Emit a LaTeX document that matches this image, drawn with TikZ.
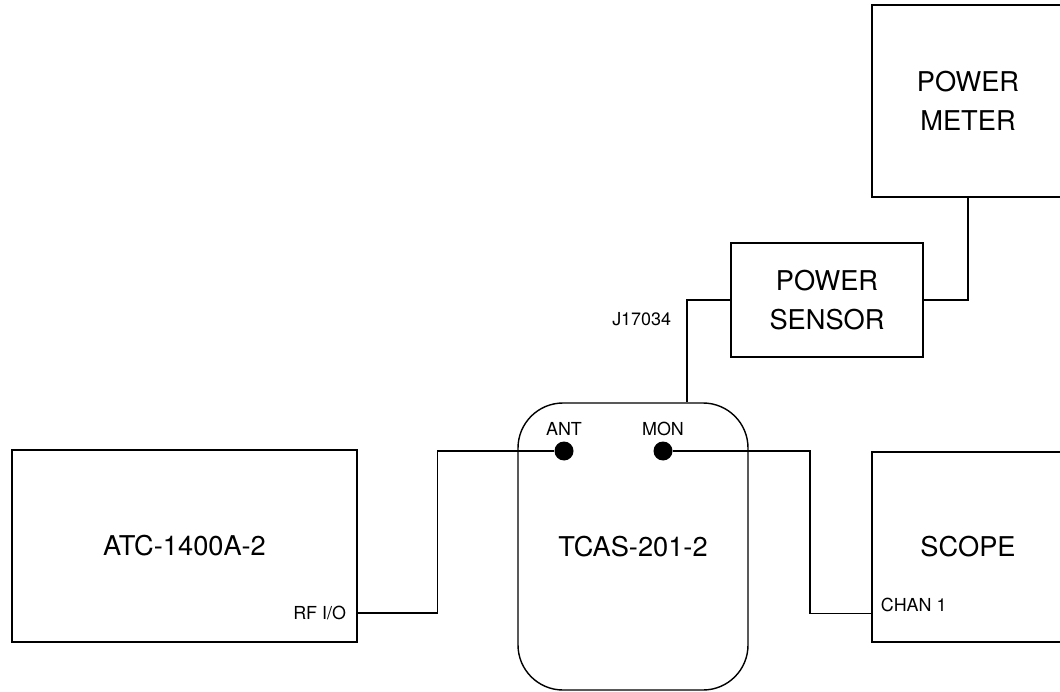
\documentclass[tikz,border=0pt]{standalone}
\usepackage{fontspec}
\setmainfont{TeX Gyre Heros}
\usetikzlibrary{positioning,calc}

\begin{document}
\begin{tikzpicture}[line width=0.8pt,
  box/.style={draw,align=center,inner sep=0pt,font=\fontsize{15.5}{22}\selectfont},
  lbl/.style={font=\fontsize{10.2}{12}\selectfont,inner sep=1pt},
  port/.style={circle,fill,inner sep=0pt,minimum size=0.38cm}]
\useasboundingbox (0,0) rectangle (21.2,-13.84);
\clip (0,0) rectangle (21.2,-13.84);

\node[box,minimum width=3.84cm,minimum height=3.84cm] (PM) at (19.36,-2.02) {POWER\\METER};
\node[box,minimum width=3.84cm,minimum height=2.28cm] (PS) at (16.54,-6.0) {POWER\\SENSOR};
\node[box,minimum width=4.6cm,minimum height=5.74cm,rounded corners=0.9cm] (TC) at (12.66,-10.93) {TCAS-201-2};
\node[box,minimum width=6.9cm,minimum height=3.84cm] (ATC) at (3.69,-10.92) {ATC-1400A-2};
\node[box,minimum width=3.84cm,minimum height=3.8cm] (SC) at (19.36,-10.94) {SCOPE};

\node[port] (ant) at (11.28,-9.02) {};
\node[port] (mon) at (13.26,-9.02) {};
\node[lbl,above=0.05cm of ant] {ANT};
\node[lbl,above=0.05cm of mon] {MON};
\node[lbl,anchor=east] (rfio) at (6.97,-12.26) {RF I/O};
\node[lbl,anchor=west] (chan) at (17.57,-12.1) {CHAN 1};

\coordinate (J) at ($(TC.north)+(1.08,0)$);
\node[lbl,anchor=east] at ($(J)+(-0.27,1.66)$) {J17034};

\draw (PM.south) |- (PS.east);
\draw (PS.west) -| (J);
\draw (rfio -| ATC.east) -- ++(1.6,0) |- (ant);
\draw (mon) -- ++(2.94,0) |- ($(SC.south west)+(0,0.58)$);
\end{tikzpicture}
\end{document}
